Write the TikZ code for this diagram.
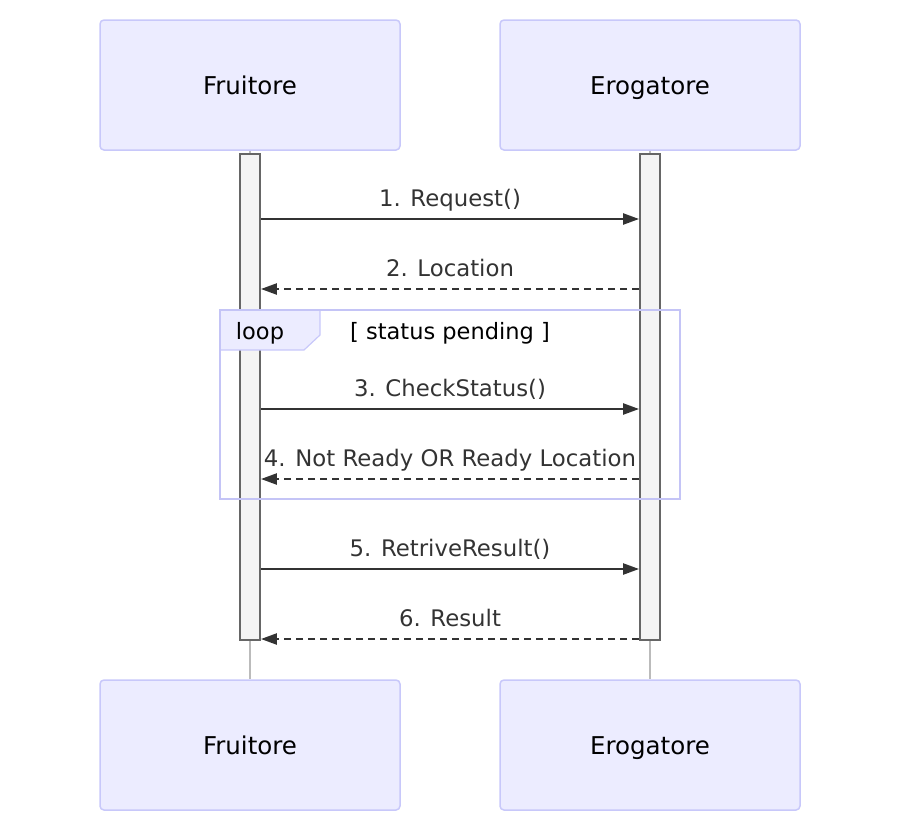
\documentclass[tikz,border=0pt]{standalone}
\usepackage{fontspec}
\setmainfont{DejaVu Sans}
\usetikzlibrary{arrows.meta}
\definecolor{actfill}{HTML}{ECECFF}
\definecolor{actborder}{HTML}{C8C8FA}
\definecolor{framecol}{HTML}{C4C4F6}
\definecolor{barfill}{HTML}{F4F4F4}
\definecolor{barborder}{HTML}{666666}
\definecolor{msgcol}{HTML}{333333}
\definecolor{lifecol}{HTML}{BBBBBB}
\tikzset{
  actor/.style={draw=actborder, fill=actfill, line width=1.5pt, rounded corners=4pt,
    minimum width=300pt, minimum height=130pt, inner sep=0pt},
  actortext/.style={anchor=base, inner sep=0pt, font=\fontsize{24.5}{28}\selectfont, text=black},
  actbar/.style={draw=barborder, fill=barfill, line width=1.8pt, minimum width=20pt,
    minimum height=486pt, inner sep=0pt},
  lifeline/.style={draw=lifecol, line width=1.2pt},
  msg/.style={draw=msgcol, line width=2.3pt, -{Triangle[length=16pt,width=11pt]}},
  reply/.style={msg, dash pattern=on 7pt off 5pt},
  msgtext/.style={anchor=base, inner sep=0pt, font=\fontsize{22.8}{27}\selectfont, text=msgcol},
  looptext/.style={anchor=base, inner sep=0pt, font=\fontsize{22.5}{27}\selectfont, text=black},
  frame/.style={draw=framecol, line width=2.6pt},
  tab/.style={draw=actborder, fill=actfill, line width=1.2pt}
}
\begin{document}
\begin{tikzpicture}[x=1pt,y=-1pt]
\useasboundingbox (0,0) rectangle (900,812);
% actors
\node[actor] (fTop) at (250,85) {};
\node[actor] (eTop) at (650,85) {};
\node[actor] (fBot) at (250,745) {};
\node[actor] (eBot) at (650,745) {};
% lifelines
\draw[lifeline] (fTop.south) -- (fBot.north);
\draw[lifeline] (eTop.south) -- (eBot.north);
% activation bars
\node[actbar] (fBar) at (250,397) {};
\node[actbar] (eBar) at (650,397) {};
% actor labels
\node[actortext] (fTopL) at (250,94) {Fruitore};
\node[actortext] (eTopL) at (650,94) {Erogatore};
\node[actortext] (fBotL) at (250,754) {Fruitore};
\node[actortext] (eBotL) at (650,754) {Erogatore};
% loop frame
\coordinate (loopTL) at (220,310);
\coordinate (loopBR) at (680,499);
\draw[tab] (220,310) -- (320,310) -- (320,335) -- (304,350) -- (220,350) -- cycle;
\draw[frame] (loopTL) rectangle (loopBR);
\node[looptext] (loopL) at (260,339) {loop};
\node[looptext] (loopC) at (450,339) {[ status pending ]};
% messages
\coordinate (m1) at (450,219);
\coordinate (m2) at (450,289);
\coordinate (m3) at (450,409);
\coordinate (m4) at (450,479);
\coordinate (m5) at (450,569);
\coordinate (m6) at (450,639);
\draw[msg] (fBar.east |- m1) -- (eBar.west |- m1);
\draw[reply] (eBar.west |- m2) -- (fBar.east |- m2);
\draw[msg] (fBar.east |- m3) -- (eBar.west |- m3);
\draw[reply] (eBar.west |- m4) -- (fBar.east |- m4);
\draw[msg] (fBar.east |- m5) -- (eBar.west |- m5);
\draw[reply] (eBar.west |- m6) -- (fBar.east |- m6);
\node[msgtext] (t1) at (450,206) {1. Request()};
\node[msgtext] (t2) at (450,276) {2. Location};
\node[msgtext] (t3) at (450,396) {3. CheckStatus()};
\node[msgtext] (t4) at (450,466) {4. Not Ready OR Ready Location};
\node[msgtext] (t5) at (450,556) {5. RetriveResult()};
\node[msgtext] (t6) at (450,626) {6. Result};
\end{tikzpicture}
\end{document}
